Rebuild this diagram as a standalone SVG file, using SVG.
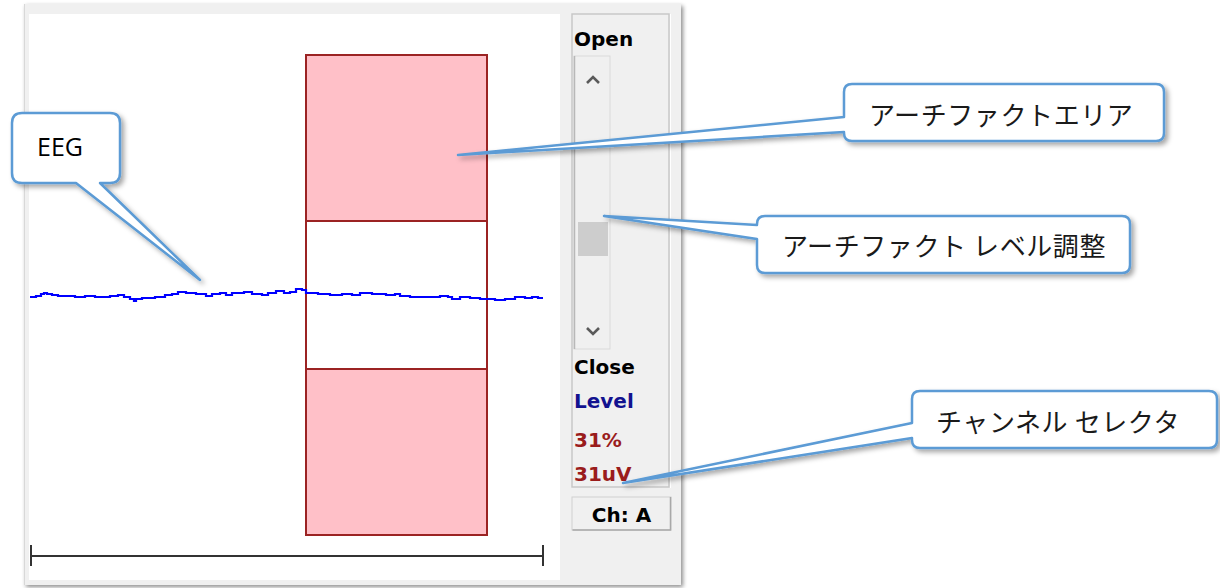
<svg xmlns="http://www.w3.org/2000/svg" width="1220" height="588" viewBox="0 0 1220 588">
  <defs>
    <filter id="shadow" x="-10%" y="-10%" width="130%" height="140%">
      <feDropShadow dx="3" dy="3" stdDeviation="2.5" flood-color="#000" flood-opacity="0.35"/>
    </filter>
    <filter id="winshadow" x="-5%" y="-5%" width="110%" height="110%">
      <feDropShadow dx="2" dy="2" stdDeviation="2" flood-color="#000" flood-opacity="0.45"/>
    </filter>
    <style>
      .callout { fill: #ffffff; stroke: #5b9bd5; stroke-width: 2.5; stroke-linejoin: round; filter: url(#shadow); }
      .jp { font-family: "Noto Sans CJK JP", sans-serif; font-size: 26px; fill: #1a1a1a; letter-spacing: 0.6px; }
      .ctl { font-family: "DejaVu Sans", sans-serif; font-weight: bold; font-size: 20px; }
      .area { fill: #ffc0c8; stroke: #9b2323; stroke-width: 2; }
    </style>
  </defs>
  <rect x="0" y="0" width="1220" height="588" fill="#ffffff"/>

  <g id="window">
    <rect x="24" y="4" width="657" height="581" fill="#f0f0f0" filter="url(#winshadow)"/>
    <line x1="24.5" y1="4" x2="24.5" y2="585" stroke="#d8d8d8" stroke-width="1"/>
    <rect x="29" y="14" width="531" height="566" fill="#ffffff"/>
  </g>

  <g id="artifact-area">
    <rect class="area" x="306" y="55" width="181" height="166"/>
    <rect x="306" y="221" width="181" height="148" fill="#ffffff" stroke="#9b2323" stroke-width="2"/>
    <rect class="area" x="306" y="369" width="181" height="166"/>
  </g>

  <g id="eeg-trace">
    <polyline fill="none" stroke="#0000ff" stroke-width="2.2" points="30,297 36,297 36,296 41,296 41,294 44,294 44,293 47,293 47,294 52,294 52,295 58,295 58,296 75,296 75,297 85,297 85,296 95,296 95,297 110,297 110,296 118,296 118,295 124,295 124,297 130,297 130,299 134,299 134,301 136,301 136,299 142,299 142,298 155,298 155,297 165,297 165,295 172,295 172,294 178,294 178,292 186,292 186,293 196,293 196,294 206,294 206,296 212,296 212,294 220,294 220,293 226,293 226,295 232,295 232,293 244,293 244,292 252,292 252,294 262,294 262,295 268,295 268,293 276,293 276,291 284,291 284,293 290,293 290,292 296,292 296,289 302,289 302,290 306,290 306,293 318,293 318,294 330,294 330,295 342,295 342,294 352,294 352,295 360,295 360,293 372,293 372,294 386,294 386,295 395,295 395,294 400,294 400,296 410,296 410,297 440,297 440,296 448,296 448,297 452,297 452,299 460,299 460,297 470,297 470,298 480,298 480,299 495,299 495,300 505,300 505,299 515,299 515,297 525,297 525,298 532,298 532,297 538,297 538,298 543,298"/>
  </g>

  <g id="scale-bar" stroke="#333333" stroke-width="2">
    <line x1="31" y1="556" x2="543" y2="556"/>
    <line x1="31" y1="545" x2="31" y2="566"/>
    <line x1="543" y1="545" x2="543" y2="566"/>
  </g>

  <g id="level-panel">
    <rect x="572" y="14" width="97" height="473" fill="none" stroke="#c8c8c8" stroke-width="1.5"/>
    <line x1="670.5" y1="14" x2="670.5" y2="488" stroke="#ffffff" stroke-width="1"/>
    <text class="ctl" x="574" y="46" fill="#000000">Open</text>
    <g id="scrollbar">
      <rect x="574" y="56" width="36" height="293" fill="#f0f0f0" stroke="#dadada" stroke-width="1"/>
      <line x1="574.5" y1="56" x2="574.5" y2="349" stroke="#b8b8b8" stroke-width="1.5"/>
      <polyline points="587,83 593,77 599,83" fill="none" stroke="#5a5a5a" stroke-width="2.6"/>
      <polyline points="587,328 593,334 599,328" fill="none" stroke="#5a5a5a" stroke-width="2.6"/>
      <rect x="578" y="222" width="30" height="34" fill="#cdcdcd"/>
    </g>
    <text class="ctl" x="574" y="374" fill="#000000">Close</text>
    <text class="ctl" x="574" y="408" fill="#12128f">Level</text>
    <text class="ctl" x="574" y="447" fill="#9a1c1c">31%</text>
    <text class="ctl" x="574" y="481" fill="#9a1c1c">31uV</text>
  </g>

  <g id="channel-button">
    <rect x="572" y="497" width="99" height="33" fill="#f0f0f0" stroke="#d0d0d0" stroke-width="1"/>
    <polyline points="572.5,530 670.5,530 670.5,497" fill="none" stroke="#a8a8a8" stroke-width="1.5"/>
    <text class="ctl" x="621.5" y="522" font-size="19" text-anchor="middle" fill="#000000">Ch: A</text>
  </g>

  <g id="connectors"></g>

  <g id="callout-eeg">
    <path class="callout" d="M22,113 H110 Q120,113 120,123 V173 Q120,183 110,183 H100 L200,280 L76,183 H22 Q12,183 12,173 V123 Q12,113 22,113 Z"/>
    <text x="37" y="156" font-family="'Open Sans', sans-serif" font-size="25" fill="#000000">EEG</text>
  </g>

  <g id="callout-artifact-area">
    <path class="callout" d="M852,84 H1156 Q1164,84 1164,92 V133 Q1164,141 1156,141 H852 Q844,141 844,133 V132 L458,155 L844,117 V92 Q844,84 852,84 Z"/>
    <text class="jp" x="869" y="125">アーチファクトエリア</text>
  </g>

  <g id="callout-level">
    <path class="callout" d="M765,216 H1122 Q1130,216 1130,224 V265 Q1130,273 1122,273 H765 Q757,273 757,265 V239 L604,216 L757,225 V224 Q757,216 765,216 Z"/>
    <text class="jp" x="782" y="256">アーチファクト レベル調整</text>
  </g>

  <g id="callout-channel">
    <path class="callout" d="M920,391 H1209 Q1217,391 1217,399 V440 Q1217,448 1209,448 H920 Q912,448 912,440 V438 L623,483 L912,423 V399 Q912,391 920,391 Z"/>
    <text class="jp" x="936" y="432">チャンネル セレクタ</text>
  </g>
</svg>
